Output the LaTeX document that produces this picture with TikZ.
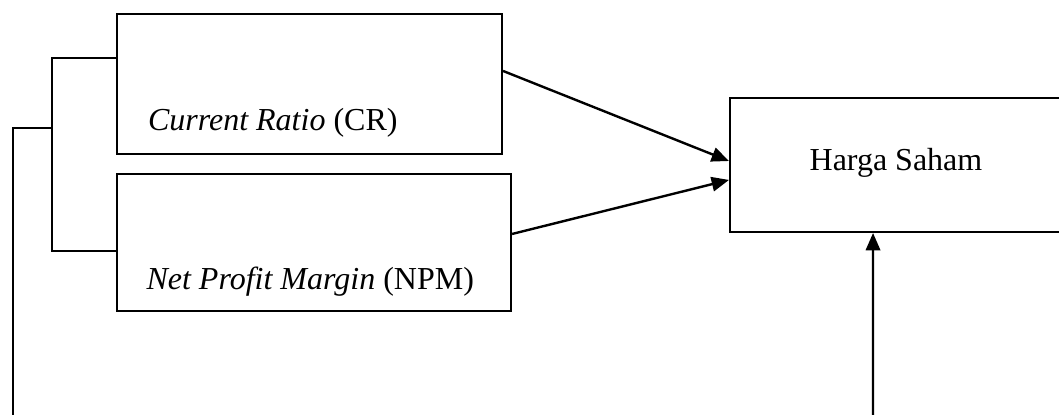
\documentclass[tikz,border=0pt]{standalone}
\usepackage{fontspec}
\setmainfont{Liberation Serif}
\usetikzlibrary{arrows.meta}
\tikzset{
  caja/.style={draw, line width=0.75pt, inner sep=0pt},
  texto/.style={font=\fontsize{12}{14}\selectfont, inner sep=0pt},
  flecha/.style={line width=0.9pt, -{Triangle[length=6.5pt,width=5.4pt]}}
}
\begin{document}
\begin{tikzpicture}[x=0.375pt,y=-0.375pt]
          \useasboundingbox (0,0) rectangle (1059,414);

          % Dibujar las cajas
          \node[caja, minimum width=144.2pt, minimum height=52.5pt] (cr) at (309.75,84) {};
          \node[caja, minimum width=147.6pt, minimum height=51.4pt] (npm) at (314.25,242.5) {};
          \node[caja, minimum width=124.9pt, minimum height=50.25pt] (harga) at (896.5,165) {};

          % Textos
          \node[texto, anchor=base west] (crtxt) at (147.5,130) {\textit{Current Ratio} (CR)};
          \node[texto, anchor=base west] (npmtxt) at (146,289) {\textit{Net Profit Margin} (NPM)};
          \node[texto, anchor=base] (hargatxt) at (896,170) {Harga Saham};

          % Corchete a la izquierda
          \coordinate (brk) at (52.4,127.7);
          \coordinate (izq) at (12.5,430);
          \draw[line width=0.75pt] ([yshift=9.6pt]cr.west) -| (brk) |- ([yshift=-3.2pt]npm.west);
          \draw[line width=0.75pt] (izq) |- (brk);

          % Flechas
          \coordinate (abajo) at (873,430);
          \draw[flecha] ([yshift=4.9pt]cr.east) -- ([yshift=1.5pt]harga.west);
          \draw[flecha] ([yshift=3.2pt]npm.east) -- ([yshift=-5.6pt]harga.west);
          \draw[flecha] (abajo) -- ([xshift=-8.8pt]harga.south);

          %\draw[dashed] (0,0) -- (1059,414);
        \end{tikzpicture}
\end{document}
